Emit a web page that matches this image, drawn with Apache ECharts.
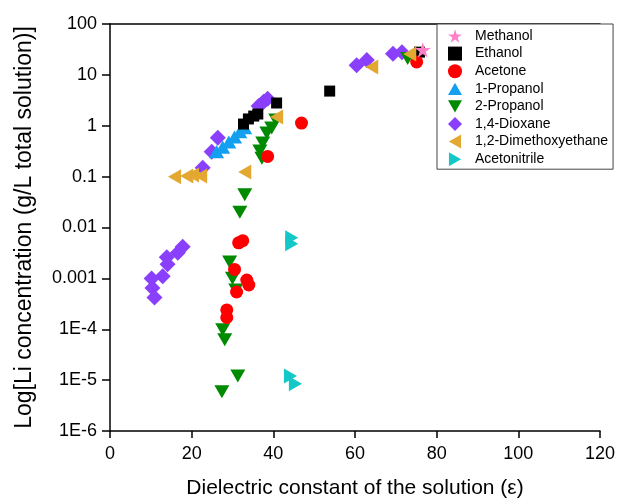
<!DOCTYPE html>
<html>
<head>
<meta charset="utf-8">
<script src="https://cdn.jsdelivr.net/npm/echarts@6/dist/echarts.min.js"></script>
<style>html,body{margin:0;padding:0;background:#fff}#c{width:636px;height:504px}</style>
</head>
<body>
<div id="c"></div>
<script>
var seriesNames = ['Methanol','Ethanol','Acetone','1-Propanol','2-Propanol','1,4-Dioxane','1,2-Dimethoxyethane','Acetonitrile'];
var xTicks = [0,20,40,60,80,100,120];
var yTickLabels = ['1E-6','1E-5','1E-4','0.001','0.01','0.1','1','10','100'];

var methanol = [[76.6,31]];
var ethanol = [[53.8,4.8],[40.8,2.8],[32.7,1.08],[33.9,1.36],[35.2,1.55],[36.2,1.7],[75.8,28]];
var acetone = [[75.1,18],[46.9,1.13],[38.6,0.25],[31.5,0.005],[32.5,0.0055],[30.5,0.0015],[33.5,0.00093],[34.0,0.00074],[31.0,0.00054],[28.6,0.00024],[28.6,0.00017]];
var propanol1 = [[26.1,0.31],[27.6,0.38],[29.1,0.48],[30.5,0.6],[31.8,0.76],[33.0,0.91]];
var propanol2 = [[40.6,1.3],[39.6,0.9],[38.4,0.72],[37.4,0.46],[36.7,0.32],[37.2,0.23],[33.0,0.044],[31.8,0.02],[29.3,0.0021],[30.0,0.001],[30.8,0.00059],[27.6,0.000098],[28.1,0.000062],[31.3,0.000012],[27.4,0.0000059],[72.9,21]];
var dioxane = [[17.8,0.0042],[16.6,0.0032],[13.9,0.0026],[14.1,0.0019],[12.9,0.0011],[10.2,0.001],[10.4,0.00065],[10.9,0.00042],[22.7,0.15],[24.9,0.31],[26.4,0.58],[36.4,2.45],[37.6,2.95],[38.6,3.4],[60.4,15.4],[62.9,19.6],[69.3,26],[71.5,28]];
var dme = [[15.8,0.1],[18.8,0.103],[20.2,0.108],[22.2,0.103],[33.0,0.123],[40.8,1.49],[64.1,14.3],[73.4,25.8]];
var acetonitrile = [[44.5,0.0063],[44.5,0.0048],[44.2,0.000012],[45.4,0.0000085]];

var STAR = 'path://M50,0 L61.2,34.5 L97.6,34.5 L68.2,55.9 L79.4,90.5 L50,69.1 L20.6,90.5 L31.8,55.9 L2.4,34.5 L38.8,34.5 Z';
var TRI_UP = 'path://M50,0 L100,87 L0,87 Z';
var TRI_DOWN = 'path://M0,0 L100,0 L50,87 Z';
var TRI_LEFT = 'path://M0,50 L87,0 L87,100 Z';
var TRI_RIGHT = 'path://M0,0 L87,50 L0,100 Z';

var FONT = 'Liberation Sans, Arial, sans-serif';
var chart = echarts.init(document.getElementById('c'));
function s(name, data, symbol, size, color) {
  return {name: name, type: 'scatter', data: data, symbol: symbol, symbolSize: size, symbolKeepAspect: true,
    itemStyle: {color: color, opacity: 1}, emphasis: {disabled: true}};
}
chart.setOption({
  animation: false,
  grid: {left: 110, right: 36, top: 24, bottom: 73, containLabel: false},
  legend: {
    orient: 'vertical', left: 437, top: 24, padding: [4, 5, 2, 11],
    itemWidth: 14, itemHeight: 14, itemGap: 1.6,
    borderColor: '#444', borderWidth: 1, backgroundColor: '#fff',
    textStyle: {fontFamily: FONT, fontSize: 14, lineHeight: 16, color: '#000', padding: [0, 0, 0, 8]},
    data: seriesNames
  },
  xAxis: [{
    type: 'value', min: 0, max: 120, interval: 20,
    name: 'Dielectric constant of the solution (\u03b5)', nameLocation: 'middle', nameGap: 47,
    nameTextStyle: {fontFamily: FONT, fontSize: 21, color: '#000'},
    axisLine: {onZero: false, lineStyle: {color: '#000', width: 1.5}},
    axisTick: {inside: false, length: 7, lineStyle: {color: '#000', width: 1.5}},
    axisLabel: {fontFamily: FONT, fontSize: 18, color: '#000', margin: 14,
      formatter: function (v) { return xTicks.indexOf(v) >= 0 ? String(v) : ''; }},
    splitLine: {show: false}
  }, {
    type: 'value', min: 0, max: 120, position: 'top',
    axisLine: {show: true, lineStyle: {color: '#000', width: 1.5}},
    axisTick: {show: false}, axisLabel: {show: false}, splitLine: {show: false}
  }],
  yAxis: {
    type: 'log', logBase: 10, min: 0.000001, max: 100,
    name: 'Log[Li concentration (g/L total solution)]', nameLocation: 'middle', nameGap: 74,
    nameTextStyle: {fontFamily: FONT, fontSize: 23, color: '#000'},
    axisLine: {show: true, onZero: false, lineStyle: {color: '#000', width: 1.5}},
    axisTick: {inside: false, length: 8, lineStyle: {color: '#000', width: 1.5}},
    axisLabel: {fontFamily: FONT, fontSize: 18, color: '#000', margin: 13,
      formatter: function (v) {
        var e = Math.round(Math.log10(v));
        return yTickLabels[e + 6] || '';
      }},
    splitLine: {show: false}
  },
  series: [
    s('1,4-Dioxane', dioxane, 'diamond', 16, '#8A3FFC'),
    s('2-Propanol', propanol2, TRI_DOWN, 15, '#008A00'),
    s('1-Propanol', propanol1, TRI_UP, 15, '#14A0F0'),
    s('Ethanol', ethanol, 'rect', 11, '#000000'),
    s('Acetone', acetone, 'circle', 13, '#FF0000'),
    s('1,2-Dimethoxyethane', dme, TRI_LEFT, 15, '#E3A832'),
    s('Acetonitrile', acetonitrile, TRI_RIGHT, 15, '#14C8C8'),
    s('Methanol', methanol, STAR, 16, '#FF80C8')
  ]
});
</script>
</body>
</html>
